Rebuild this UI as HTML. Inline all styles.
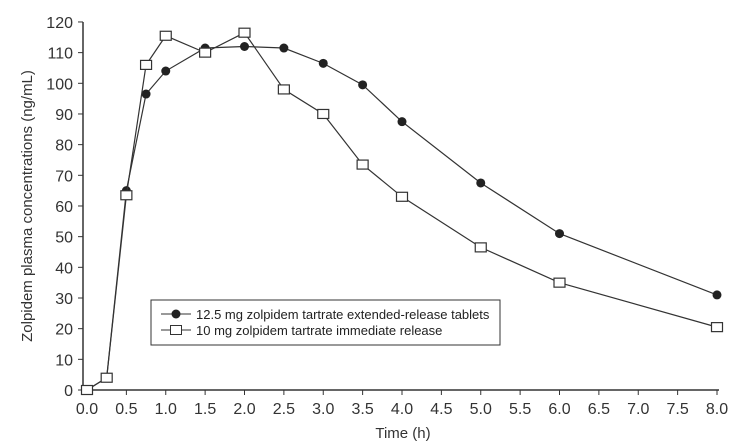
<!DOCTYPE html>
<html><head><meta charset="utf-8"><style>
body{margin:0;background:#fff}
svg{display:block;font-family:"Liberation Sans",sans-serif}
</style></head><body>
<svg id="c" width="746" height="447">
<text x="0" y="0" transform="translate(32,206) rotate(-90)" text-anchor="middle" font-size="15" fill="#333">Zolpidem plasma concentrations (ng/mL)</text>
<text x="403" y="438" text-anchor="middle" font-size="15" fill="#333">Time (h)</text>
</svg>
<script>
const xTicks=[0,0.5,1,1.5,2,2.5,3,3.5,4,4.5,5,5.5,6,6.5,7,7.5,8];
const yTicks=[0,10,20,30,40,50,60,70,80,90,100,110,120];
const erTimes=[0,0.25,0.5,0.75,1,1.5,2,2.5,3,3.5,4,5,6,8];
const erValues=[0,4,65,96.5,104,111.5,112,111.5,106.5,99.5,87.5,67.5,51,31];
const irTimes=[0,0.25,0.5,0.75,1,1.5,2,2.5,3,3.5,4,5,6,8];
const irValues=[0,4,63.5,106,115.5,110,116.5,98,90,73.5,63,46.5,35,20.5];
const NS='http://www.w3.org/2000/svg',svg=document.getElementById('c');
const X=t=>87+t*78.75, Y=v=>390-v*3.067;
function mk(tag,a,p){const e=document.createElementNS(NS,tag);for(const k in a)e.setAttribute(k,a[k]);(p||svg).appendChild(e);return e;}
let ax=mk('line',{x1:83,y1:390,x2:719,y2:390,stroke:'#333','stroke-width':1.5});


ax=mk('line',{x1:83,y1:390,x2:83,y2:Y(120),stroke:'#333','stroke-width':1.5});


xTicks.forEach(t=>{mk('line',{x1:X(t),y1:390,x2:X(t),y2:395,stroke:'#333'});
const tx=mk('text',{x:X(t),y:414,'text-anchor':'middle','font-size':16,fill:'#333'});tx.textContent=t.toFixed(1);

});
yTicks.forEach(v=>{mk('line',{x1:78,y1:Y(v),x2:83,y2:Y(v),stroke:'#333'});
const tx=mk('text',{x:73,y:Y(v)+6,'text-anchor':'end','font-size':16,fill:'#333'});tx.textContent=v;

});
function series(ts,vs,kind,name){
const g=mk('g',{});


mk('polyline',{points:ts.map((t,i)=>X(t)+','+Y(vs[i])).join(' '),fill:'none',stroke:'#333','stroke-width':1.2},g);
ts.forEach((t,i)=>{let m;
if(kind==='c')m=mk('circle',{cx:X(t),cy:Y(vs[i]),r:4.5,fill:'#222'},g);
else m=mk('rect',{x:X(t)-5.5,y:Y(vs[i])-4.5,width:11,height:9,fill:'#fff',stroke:'#333','stroke-width':1.2},g);

});}
series(erTimes,erValues,'c','extended-release-series');
series(irTimes,irValues,'s','immediate-release-series');
const lg=mk('g',{});


mk('rect',{x:151,y:300,width:349,height:45,fill:'#fff',stroke:'#333'},lg);
mk('line',{x1:161,y1:314,x2:191,y2:314,stroke:'#333'},lg);
mk('circle',{cx:176,cy:314,r:4.5,fill:'#222'},lg);
mk('line',{x1:161,y1:330,x2:191,y2:330,stroke:'#333'},lg);
mk('rect',{x:170.5,y:325.5,width:11,height:9,fill:'#fff',stroke:'#333'},lg);
let t1=mk('text',{x:196,y:319,'font-size':13,fill:'#222'},lg);t1.textContent='12.5 mg zolpidem tartrate extended-release tablets';


t1=mk('text',{x:196,y:335,'font-size':13,fill:'#222'},lg);t1.textContent='10 mg zolpidem tartrate immediate release';


</script>
</body></html>
